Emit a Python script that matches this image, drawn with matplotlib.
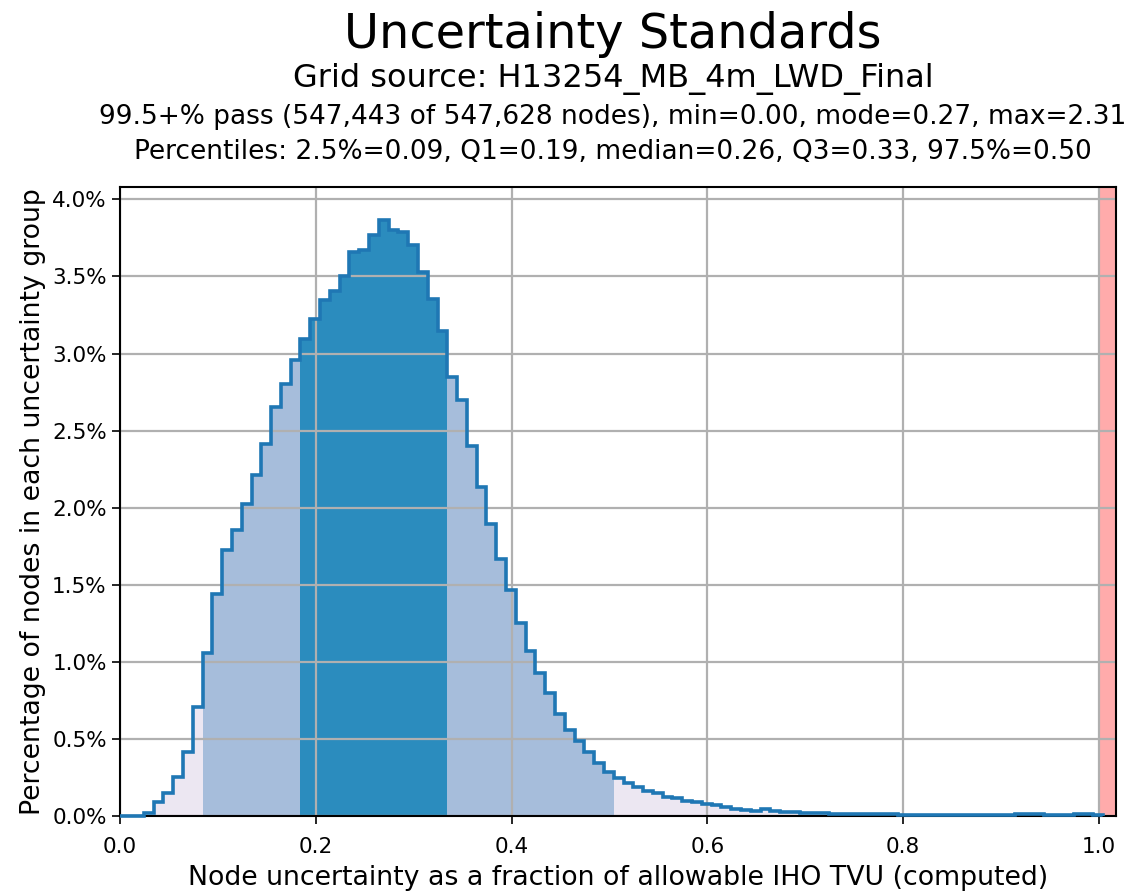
import numpy as np
import matplotlib
matplotlib.use("Agg")
import matplotlib.pyplot as plt
from matplotlib.ticker import FuncFormatter

# histogram of node uncertainty / allowable TVU, percent of nodes per 0.01 bin
bin_start = 0.0044
bin_width = 0.01
pct_nodes = [
    0.0, 0.0, 0.02, 0.09, 0.15, 0.25, 0.415, 0.705, 1.056, 1.44,
    1.725, 1.854, 2.027, 2.21, 2.41, 2.652, 2.804, 2.955, 3.095, 3.225,
    3.348, 3.408, 3.505, 3.66, 3.672, 3.77, 3.867, 3.80, 3.788, 3.706,
    3.53, 3.356, 3.147, 2.847, 2.696, 2.398, 2.131, 1.891, 1.665, 1.466,
    1.25, 1.073, 0.927, 0.797, 0.663, 0.56, 0.484, 0.415, 0.344, 0.286,
    0.247, 0.215, 0.186, 0.165, 0.150, 0.122, 0.120, 0.096, 0.094, 0.078,
    0.074, 0.056, 0.045, 0.042, 0.032, 0.043, 0.034, 0.025, 0.024, 0.019,
    0.019, 0.019, 0.015, 0.015, 0.015, 0.015, 0.015, 0.010, 0.015, 0.007,
    0.007, 0.007, 0.007, 0.007, 0.007, 0.007, 0.007, 0.007, 0.007, 0.007,
    0.005, 0.012, 0.012, 0.012, 0.005, 0.005, 0.005, 0.012, 0.012, 0.005,
]
# percentiles used for shading
p025, q1, q3, p975 = 0.09, 0.19, 0.33, 0.50

title = "Uncertainty Standards"
subtitle = "Grid source: H13254_MB_4m_LWD_Final"
stats1 = "99.5+% pass (547,443 of 547,628 nodes), min=0.00, mode=0.27, max=2.31"
stats2 = "Percentiles: 2.5%=0.09, Q1=0.19, median=0.26, Q3=0.33, 97.5%=0.50"

heights = np.array(pct_nodes)
lefts = bin_start + bin_width * np.arange(len(heights))
rights = lefts + bin_width

colors = []
for lo, hi in zip(lefts, rights):
    if hi > q1 and lo <= q3:
        colors.append("#2b8cbe")
    elif hi > p025 and lo <= p975:
        colors.append("#a6bddb")
    else:
        colors.append("#ece7f2")

fig = plt.figure(figsize=(11.34, 8.93), dpi=100)
ax = fig.add_axes([0.1058, 0.0862, 0.8783, 0.7044])

ax.bar(lefts, heights, width=bin_width, align="edge", color=colors, linewidth=0, zorder=1)
edges = np.concatenate([[0.0], rights])
ax.stairs(heights, edges, color="#1f77b4", linewidth=2.6, zorder=5, clip_on=False)
ax.axvspan(1.0, 1.0175, color="red", alpha=0.33, linewidth=0, zorder=2)

ax.set_xlim(0, 1.0175)
ax.set_ylim(0, 4.08)
ax.set_xticks([0.0, 0.2, 0.4, 0.6, 0.8, 1.0])
ax.set_yticks(np.arange(0, 4.01, 0.5))
ax.yaxis.set_major_formatter(FuncFormatter(lambda v, p: "%.1f%%" % v))
ax.grid(True, color="#b0b0b0", linewidth=1.6, zorder=2.5)
ax.set_axisbelow(False)
ax.tick_params(labelsize=15.5, length=6, width=1.2)
ax.tick_params(axis="x", pad=9)
for s in ax.spines.values():
    s.set_linewidth(1.5)
    s.set_zorder(4)

ax.set_xlabel("Node uncertainty as a fraction of allowable IHO TVU (computed)", fontsize=19.3, labelpad=6)
ax.set_ylabel("Percentage of nodes in each uncertainty group", fontsize=19.3)

fig.text(0.5405, 0.961, title, fontsize=34.5, ha="center", va="center")
fig.text(0.5405, 0.912, subtitle, fontsize=23, ha="center", va="center")
fig.text(0.5405, 0.869, stats1, fontsize=19, ha="center", va="center")
fig.text(0.5405, 0.830, stats2, fontsize=19, ha="center", va="center")

fig.savefig("out.png", dpi=100)
